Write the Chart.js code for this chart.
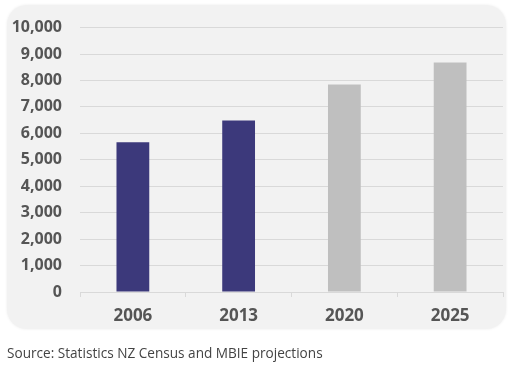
<!DOCTYPE html>
<html>
<head>
<meta charset="utf-8">
<script src="https://cdn.jsdelivr.net/npm/chart.js@4/dist/chart.umd.min.js"></script>
<style>
  html, body { margin: 0; padding: 0; background: #ffffff; }
  #wrap { position: relative; width: 515px; height: 365px; overflow: hidden; }
  #panel { position: absolute; left: 7px; top: 5px; width: 499px; height: 324px;
           background: #f2f2f2; border-radius: 20px;
           box-shadow: 0 0 3px rgba(0,0,0,0.08); }
  #cv { position: absolute; left: 0; top: 0; }
  #src { position: absolute; left: 7px; top: 343px; font-family: "Open Sans", sans-serif;
         font-size: 13.6px; color: #444; white-space: nowrap; }
</style>
</head>
<body>
<div id="wrap">
  <div id="panel"></div>
  <canvas id="cv" width="515" height="365"></canvas>
  <div id="src">Source: Statistics NZ Census and MBIE projections</div>
</div>
<script>
const categories = ["2006", "2013", "2020", "2025"];
const values = [5660, 6490, 7850, 8680];
const barColors = ["#3c397b", "#3c397b", "#bfbfbf", "#bfbfbf"];
const yTickMin = 0;
const yTickMax = 10000;
const yTickStep = 1000;

const textColor = "#555555";
const gridColor = "#d9d9d9";

new Chart(document.getElementById("cv"), {
  type: "bar",
  data: {
    labels: categories,
    datasets: [{
      data: values,
      backgroundColor: barColors,
      borderWidth: 0,
      barPercentage: 0.31,
      categoryPercentage: 1.0
    }]
  },
  options: {
    responsive: false,
    animation: false,
    devicePixelRatio: 1,
    layout: { padding: { left: 0, right: 12, top: 27, bottom: 0 } },
    plugins: { legend: { display: false }, tooltip: { enabled: false }, title: { display: false } },
    scales: {
      x: {
        offset: true,
        grid: { display: true, drawOnChartArea: false, offset: true, tickLength: 5, color: gridColor },
        border: { display: true, color: gridColor },
        ticks: { color: textColor, padding: 9, font: { family: "'Open Sans', sans-serif", size: 17, weight: "bold" } },
        afterFit: (s) => { s.height = 73; }
      },
      y: {
        min: yTickMin,
        max: yTickMax,
        grid: { color: gridColor, drawTicks: false, lineWidth: 1 },
        border: { display: false },
        ticks: {
          stepSize: yTickStep,
          color: textColor,
          padding: 18,
          font: { family: "'Open Sans', sans-serif", size: 16, weight: "bold" },
          callback: (v) => v.toLocaleString("en-US")
        },
        afterFit: (s) => { s.width = 80; }
      }
    }
  }
});
</script>
</body>
</html>
